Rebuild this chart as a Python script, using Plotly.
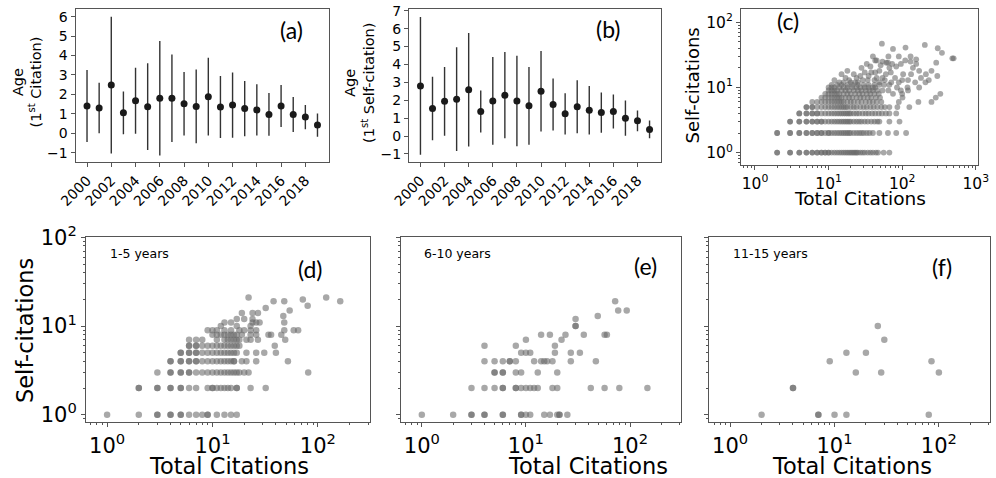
import plotly.graph_objects as go

# ---------------- data ----------------
years = list(range(2000, 2020))
year_ticks = [2000, 2002, 2004, 2006, 2008, 2010, 2012, 2014, 2016, 2018]

first_cit_mean = [1.40, 1.30, 2.48, 1.05, 1.67, 1.37, 1.80, 1.80, 1.52, 1.38,
                  1.88, 1.35, 1.45, 1.27, 1.20, 0.97, 1.40, 0.97, 0.83, 0.42]
first_cit_std = [1.85, 1.30, 3.52, 1.10, 1.70, 2.23, 2.95, 2.25, 1.63, 1.90,
                 2.00, 1.60, 1.68, 1.42, 1.32, 1.10, 1.08, 0.90, 0.62, 0.60]
first_self_mean = [2.80, 1.54, 1.94, 2.06, 2.59, 1.37, 1.96, 2.28, 1.96, 1.69,
                   2.50, 1.76, 1.24, 1.63, 1.44, 1.31, 1.37, 1.00, 0.85, 0.37]
first_self_std = [3.85, 1.77, 1.92, 2.90, 3.17, 1.17, 2.45, 2.41, 2.53, 2.17,
                  2.25, 1.45, 1.15, 1.48, 1.35, 1.12, 0.95, 0.98, 0.58, 0.50]

log_tickvals = [1, 10, 100, 1000]
log_ticktext = ["10<sup>0</sup>", "10<sup>1</sup>", "10<sup>2</sup>", "10<sup>3</sup>"]

# panel (c): all papers -- total citations per self-citation level
c_levels = [1, 2, 3, 4, 5, 6, 7, 8, 9, 10, 11]
c_x_y1 = [2, 2, 3, 3, 4, 4, 5, 5, 6, 6, 7, 7, 8, 8, 9, 9, 10, 10, 11, 12, 13, 14, 15, 16, 17, 18, 19, 20,
          21, 22, 23, 24, 25, 27, 29, 31, 34, 37, 40, 44, 47, 56, 67]
c_x_y2 = [2, 2, 3, 3, 4, 4, 5, 5, 6, 6, 7, 7, 8, 8, 9, 10, 10, 11, 12, 13, 14, 15, 16, 17, 18, 19, 20,
          22, 24, 26, 28, 30, 33, 36, 40, 49, 64, 83, 113]
c_x_y3 = [3, 3, 4, 4, 5, 5, 6, 6, 7, 7, 8, 8, 9, 10, 11, 12, 13, 14, 15, 16, 17, 18, 19, 20, 22, 24, 26,
          28, 31, 34, 38, 42, 46, 49, 67, 92]
c_x_y4 = [4, 4, 5, 5, 6, 6, 7, 7, 8, 9, 10, 11, 12, 13, 14, 15, 16, 17, 18, 19, 20, 22, 24, 26, 29, 32,
          35, 39, 43, 48, 53, 60, 67, 83]
c_x_y5 = [5, 5, 6, 6, 7, 8, 9, 10, 11, 12, 13, 14, 15, 16, 17, 18, 20, 22, 24, 27, 30, 33, 37, 41, 46,
          52, 58, 67, 86, 125]
c_x_y6 = [6, 7, 8, 9, 10, 11, 12, 13, 14, 15, 16, 18, 20, 22, 25, 28, 32, 36, 40, 45, 52, 90, 166, 250]
c_x_y7 = [8, 9, 10, 11, 12, 13, 14, 15, 17, 19, 21, 24, 27, 30, 34, 38, 44, 50, 101, 286]
c_x_y8 = [9, 10, 11, 12, 13, 14, 16, 18, 20, 23, 26, 29, 33, 37, 42, 48, 75, 100, 330]
c_x_y9 = [10, 11, 12, 13, 15, 17, 19, 22, 25, 28, 32, 36, 40, 46, 54, 65, 96, 120]
c_x_y10 = [10, 11, 12, 14, 16, 18, 21, 24, 27, 31, 35, 40, 43, 85, 118, 170]
c_x_y11 = [11, 13, 15, 18, 21, 25, 30, 35, 42, 49, 57, 67]
c_up_x = [53, 75, 111, 203, 304, 347, 500, 480, 43, 51, 64, 73, 83, 96, 130, 155, 130, 155,
          103, 132, 170, 290, 210, 300, 207, 230, 18, 15, 24, 20, 12, 29, 34, 42, 49,
          33, 37, 49, 54, 61, 67, 45, 71, 54, 43, 14, 17, 22, 27, 38, 80, 90, 100, 28, 60,
          70, 25, 35, 45, 120, 150, 180, 40, 65, 90, 110, 140, 250, 16, 19, 23, 31, 58]
c_up_y = [47, 39, 41, 45, 40, 34, 28, 28, 26, 22, 24, 23, 21, 23, 30, 27, 25, 23,
          16, 16, 18, 24, 16, 15, 12, 13, 18, 16, 14, 12, 13, 13, 13, 13, 12,
          23, 21, 18, 25, 24, 20, 26, 12, 14, 17, 12, 14, 16, 15, 17, 14, 12, 13, 20, 16,
          17, 12, 15, 14, 13, 12, 14, 30, 30, 30, 26, 20, 18, 12, 13, 12, 17, 13]

# panel (d): 1-5 years
d_levels = [1, 2, 3, 4, 5, 6, 7, 8, 9]
d_x_y1 = [1, 2, 3, 3, 4, 4, 5, 5, 6, 7, 8, 9, 9, 11, 13, 15, 17]
d_x_y2 = [2, 2, 3, 3, 4, 4, 5, 5, 6, 7, 9, 10, 10, 11, 12, 13, 14, 15, 17, 17, 23, 32]
d_x_y3 = [3, 4, 4, 5, 5, 6, 6, 7, 8, 9, 10, 11, 12, 13, 14, 15, 16, 17, 18, 20, 22, 81]
d_x_y4 = [4, 4, 5, 5, 6, 6, 7, 7, 8, 9, 10, 11, 12, 13, 14, 15, 16, 16, 19, 21, 26, 52]
d_x_y5 = [5, 5, 6, 6, 7, 7, 8, 9, 10, 11, 12, 13, 14, 15, 16, 17, 21, 26, 31, 40]
d_x_y6 = [6, 6, 7, 7, 8, 9, 10, 11, 12, 13, 14, 15, 16, 17, 18, 39]
d_x_y7 = [6, 7, 8, 11, 13, 14, 15, 16, 17, 18, 21, 23, 27, 49]
d_x_y8 = [10, 11, 12, 13, 14, 15, 16, 17, 19, 23, 26, 34, 36, 45]
d_x_y9 = [9, 10, 11, 13, 15, 18, 20, 23, 26, 48, 59, 65]
d_up_x = [13, 15, 17, 24, 26, 28, 23, 17, 48, 19, 24, 27, 47, 32, 54, 22, 38, 48, 72, 80, 120, 163, 20, 12, 24]
d_up_y = [11, 11, 12, 12, 11, 11, 10, 10, 11, 14, 14, 14, 13, 16, 15, 21, 19, 19, 20, 17, 21, 19, 12, 10, 11]

# panel (e): 6-10 years
e_levels = [1, 2, 3, 4, 5, 6, 7, 8]
e_x_y1 = [1, 2, 3, 3, 4, 4, 6, 6, 9, 9, 10, 11, 15, 17, 20, 21, 21, 25]
e_x_y2 = [3, 4, 5, 6, 6, 8, 8, 9, 10, 11, 12, 13, 18, 20, 42, 57, 79, 147]
e_x_y3 = [5, 5, 6, 6, 8, 9, 13, 20]
e_x_y4 = [4, 5, 6, 7, 7, 8, 12, 14, 15, 16, 18, 27, 47]
e_x_y5 = [9, 10, 11, 19, 27, 33]
e_x_y6 = [4, 8, 19]
e_x_y7 = [10, 22]
e_x_y8 = [14, 17, 24, 36, 57, 60]
e_up_x = [30, 30, 30, 49, 72, 77, 93]
e_up_y = [10, 10, 12, 13, 19, 15, 15]

# panel (f): 11-15 years
f_x = [2, 4, 4, 7, 7, 10, 13, 80, 9, 13, 20, 16, 28, 26, 30, 85, 100]
f_y = [1, 2, 2, 1, 1, 1, 1, 1, 4, 5, 5, 3, 3, 10, 7, 4, 3]


def flatten(levels, rows, up_x, up_y):
    xs, ys = [], []
    for lvl, row in zip(levels, rows):
        xs += row
        ys += [lvl] * len(row)
    return xs + up_x, ys + up_y


cx, cy = flatten(c_levels, [c_x_y1, c_x_y2, c_x_y3, c_x_y4, c_x_y5, c_x_y6, c_x_y7, c_x_y8,
                            c_x_y9, c_x_y10, c_x_y11], c_up_x, c_up_y)
dx, dy = flatten(d_levels, [d_x_y1, d_x_y2, d_x_y3, d_x_y4, d_x_y5, d_x_y6, d_x_y7, d_x_y8,
                            d_x_y9], d_up_x, d_up_y)
ex, ey = flatten(e_levels, [e_x_y1, e_x_y2, e_x_y3, e_x_y4, e_x_y5, e_x_y6, e_x_y7, e_x_y8],
                 e_up_x, e_up_y)

# ---------------- layout helpers ----------------
W, H = 996, 478
FONT = "DejaVu Sans"
LINE = "#555555"


def xdom(l, r):
    return [l / W, r / W]


def ydom(t, b):
    return [1 - b / H, 1 - t / H]


def base_axis(size):
    return dict(showline=True, mirror=True, linecolor=LINE, linewidth=1,
                ticks="outside", ticklen=4, tickcolor=LINE, tickwidth=1,
                showgrid=False, zeroline=False, automargin=False,
                tickfont=dict(family=FONT, size=size, color="black"))


def log_axis(size, rng, labels=True):
    a = base_axis(size)
    a.update(type="log", range=rng, tickmode="array", tickvals=log_tickvals,
             ticktext=log_ticktext, showticklabels=labels,
             minor=dict(ticks="outside", ticklen=2, tickcolor=LINE, dtick="D1", showgrid=False))
    return a


fig = go.Figure()

err_style = dict(type="data", symmetric=True, color="#333333", thickness=1.4, width=0)
fig.add_trace(go.Scatter(x=years, y=first_cit_mean, mode="markers",
                         marker=dict(color="#1a1a1a", size=7),
                         error_y=dict(array=first_cit_std, **err_style),
                         xaxis="x", yaxis="y"))
fig.add_trace(go.Scatter(x=years, y=first_self_mean, mode="markers",
                         marker=dict(color="#1a1a1a", size=7),
                         error_y=dict(array=first_self_std, **err_style),
                         xaxis="x2", yaxis="y2"))

dot = dict(color="rgba(105,105,105,0.58)", line=dict(width=0))
fig.add_trace(go.Scatter(x=cx, y=cy, mode="markers", marker=dict(size=5.8, **dot),
                         xaxis="x3", yaxis="y3"))
fig.add_trace(go.Scatter(x=dx, y=dy, mode="markers", marker=dict(size=6.5, **dot),
                         xaxis="x4", yaxis="y4"))
fig.add_trace(go.Scatter(x=ex, y=ey, mode="markers", marker=dict(size=6.5, **dot),
                         xaxis="x5", yaxis="y5"))
fig.add_trace(go.Scatter(x=f_x, y=f_y, mode="markers", marker=dict(size=6.5, **dot),
                         xaxis="x6", yaxis="y6"))

year_axis = dict(range=[1999.05, 2019.95], tickmode="array", tickvals=year_ticks,
                 ticktext=[str(y) for y in year_ticks], tickangle=-45)

ax_a_x = base_axis(14); ax_a_x.update(year_axis, domain=xdom(75.5, 329), anchor="y")
ax_a_y = base_axis(14); ax_a_y.update(range=[-1.48, 6.38], dtick=1, tick0=0,
                                      domain=ydom(9.3, 162), anchor="x")
ax_b_x = base_axis(14); ax_b_x.update(year_axis, domain=xdom(409, 661), anchor="y2")
ax_b_y = base_axis(14); ax_b_y.update(range=[-1.45, 7.08], dtick=1, tick0=0,
                                      domain=ydom(9.3, 162), anchor="x2")

ax_c_x = log_axis(15.5, [-0.19, 3.03]); ax_c_x.update(domain=xdom(741, 978), anchor="y3")
ax_c_y = log_axis(15.5, [-0.19, 2.2]); ax_c_y.update(domain=ydom(9.3, 165), anchor="x3")

bottom_x = [-0.2, 2.49]
bottom_y = [-0.085, 2.001]
ax_d_x = log_axis(21, bottom_x); ax_d_x.update(domain=xdom(86, 369.5), anchor="y4")
ax_d_y = log_axis(21, bottom_y); ax_d_y.update(domain=ydom(237.3, 422.3), anchor="x4")
ax_e_x = log_axis(21, bottom_x); ax_e_x.update(domain=xdom(401, 681), anchor="y5")
ax_e_y = log_axis(21, bottom_y, labels=False); ax_e_y.update(domain=ydom(237.3, 422.3), anchor="x5")
ax_f_x = log_axis(21, bottom_x); ax_f_x.update(domain=xdom(709.3, 990), anchor="y6")
ax_f_y = log_axis(21, bottom_y, labels=False); ax_f_y.update(domain=ydom(237.3, 422.3), anchor="x6")


def ann(text, xpx, ypx, size, angle=0, xanchor="center", family=FONT):
    return dict(text=text, x=xpx / W, y=1 - ypx / H, xref="paper", yref="paper",
                showarrow=False, textangle=angle, xanchor=xanchor, yanchor="middle",
                font=dict(family=family, size=size, color="black"))


PANEL_FONT = "Lato"
annotations = [
    ann("(a)", 291.7, 30, 23, family=PANEL_FONT),
    ann("(b)", 608, 28.5, 23, family=PANEL_FONT),
    ann("(c)", 788.3, 21, 23, family=PANEL_FONT),
    ann("(d)", 310, 268.5, 23, family=PANEL_FONT),
    ann("(e)", 645, 265.5, 23, family=PANEL_FONT),
    ann("(f)", 941.7, 266.5, 23, family=PANEL_FONT),
    ann("1-5 years", 108, 253.5, 12.5, xanchor="left"),
    ann("6-10 years", 421.7, 253.5, 12.5, xanchor="left"),
    ann("11-15 years", 730.7, 253.5, 12.5, xanchor="left"),
    ann("Age<br>(1<sup>st</sup> Citation)", 27.5, 82, 14.5, angle=-90),
    ann("Age<br>(1<sup>st</sup> Self-citation)", 359, 83, 14.5, angle=-90),
    ann("Self-citations", 692.5, 86, 18, angle=-90),
    ann("Total Citations", 859.5, 198, 18.5),
    ann("Self-citations", 25, 331, 22.5, angle=-90),
    ann("Total Citations", 228.5, 465.5, 22.5),
    ann("Total Citations", 587.7, 465.5, 22.5),
    ann("Total Citations", 851.7, 465.5, 22.5),
]

fig.update_layout(
    template="none",
    width=W, height=H, margin=dict(l=0, r=0, t=0, b=0),
    paper_bgcolor="white", plot_bgcolor="white", showlegend=False,
    xaxis=ax_a_x, yaxis=ax_a_y, xaxis2=ax_b_x, yaxis2=ax_b_y,
    xaxis3=ax_c_x, yaxis3=ax_c_y, xaxis4=ax_d_x, yaxis4=ax_d_y,
    xaxis5=ax_e_x, yaxis5=ax_e_y, xaxis6=ax_f_x, yaxis6=ax_f_y,
    annotations=annotations,
)

# the page body has a default 8px margin; remove it so the figure fills the window
fig.write_html("out.html", config={"displayModeBar": False},
               post_script="document.body.style.margin='0px';")
